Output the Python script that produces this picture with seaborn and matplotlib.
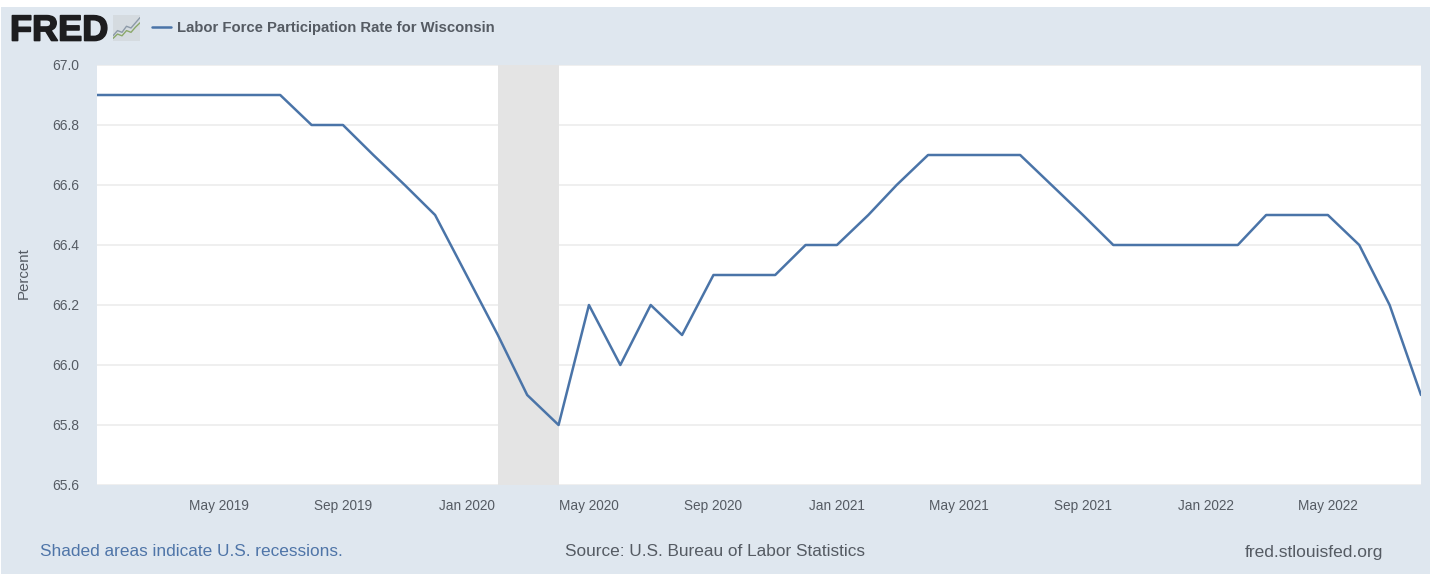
import matplotlib
matplotlib.use('Agg')
import matplotlib.pyplot as plt
import matplotlib.dates as mdates
import matplotlib.patheffects as pe
import pandas as pd
import seaborn as sns
from matplotlib.patches import Rectangle

months = pd.date_range('2019-01-01', '2022-08-01', freq='MS')
rate = [66.9, 66.9, 66.9, 66.9, 66.9, 66.9, 66.9, 66.8, 66.8, 66.7, 66.6, 66.5,
        66.3, 66.1, 65.9, 65.8, 66.2, 66.0, 66.2, 66.1, 66.3, 66.3, 66.3, 66.4,
        66.4, 66.5, 66.6, 66.7, 66.7, 66.7, 66.7, 66.6, 66.5, 66.4, 66.4, 66.4,
        66.4, 66.4, 66.5, 66.5, 66.5, 66.4, 66.2, 65.9]
y_ticks = [65.6, 65.8, 66.0, 66.2, 66.4, 66.6, 66.8, 67.0]
x_ticks = pd.to_datetime(['2019-05-01', '2019-09-01', '2020-01-01', '2020-05-01', '2020-09-01',
                          '2021-01-01', '2021-05-01', '2021-09-01', '2022-01-01', '2022-05-01'])
recession_start = pd.Timestamp('2020-02-01')
recession_end = pd.Timestamp('2020-04-01')

# little chart icon beside the logo
icon_x = [0, 1, 2, 3, 4, 5, 6]
icon_green = [0.6, 1.6, 1.2, 2.4, 2.0, 3.2, 4.2]
icon_grey = [1.2, 2.4, 2.0, 3.4, 3.0, 4.2, 5.4]

BG = '#dfe7ef'
LINE = '#4a74a8'
TEXT = '#555b63'

sns.set_theme(style='white')
plt.rcParams['font.family'] = ['Liberation Sans', 'DejaVu Sans']

W, H = 1431, 574
fig = plt.figure(figsize=(W / 100, H / 100), dpi=100, facecolor='white')
fig.add_artist(Rectangle((1 / W, 0), 1 - 2 / W, 1 - 7 / H, transform=fig.transFigure,
                         facecolor=BG, edgecolor='none', zorder=-5))

ax = fig.add_axes([97 / W, 1 - 485 / H, (1421 - 97) / W, (485 - 65) / H], facecolor='white')
df = pd.DataFrame({'date': months, 'rate': rate})
ax.axvspan(recession_start, recession_end, color='#e4e4e4', lw=0, zorder=1)
sns.lineplot(data=df, x='date', y='rate', ax=ax, color=LINE, linewidth=1.8, zorder=3)

ax.set_xlim(months[0], months[-1])
ax.set_ylim(65.6, 67.0)
ax.set_yticks(y_ticks)
ax.set_yticklabels([f'{v:.1f}' for v in y_ticks])
ax.set_xticks(x_ticks)
ax.xaxis.set_major_formatter(mdates.DateFormatter('%b %Y'))
ax.grid(axis='y', color='#eeeeee', linewidth=1.3, zorder=0)
ax.set_axisbelow(True)
for s in ax.spines.values():
    s.set_visible(False)
ax.tick_params(axis='x', length=8, width=0.8, color='#cdd7e1', labelsize=9.8, labelcolor=TEXT, pad=2)
ax.tick_params(axis='y', length=0, labelsize=10, labelcolor=TEXT, pad=13)
ax.set_xlabel('')
ax.set_ylabel('Percent', fontsize=10.8, color=TEXT)
ax.yaxis.set_label_coords((31 - 97) / (1421 - 97), (485 - 273.5) / (485 - 65))


def px_text(x, y, s, **kw):
    return fig.text(x / W, 1 - y / H, s, va='center', **kw)


logo = px_text(10, 31, 'FRED', fontsize=26, fontweight='bold', color='#1d1d1f')
logo.set_path_effects([pe.withStroke(linewidth=1.2, foreground='#1d1d1f')])
icon = fig.add_axes([113 / W, 1 - 41 / H, 27 / W, 26 / H], facecolor='#d5dbe0')
sns.lineplot(x=icon_x, y=icon_green, ax=icon, color='#8ba86a', linewidth=1.0)
sns.lineplot(x=icon_x, y=icon_grey, ax=icon, color='#8d9aa8', linewidth=1.0)
icon.set_xlim(0, 6)
icon.set_ylim(0, 6)
icon.set_xticks([])
icon.set_yticks([])
icon.set_xlabel('')
icon.set_ylabel('')
for s in icon.spines.values():
    s.set_visible(False)

fig.add_artist(plt.Line2D([152 / W, 171 / W], [1 - 27 / H, 1 - 27 / H], color=LINE, linewidth=1.8))
px_text(177, 28, 'Labor Force Participation Rate for Wisconsin', fontsize=10.7, fontweight='bold', color=TEXT)
px_text(40, 552, 'Shaded areas indicate U.S. recessions.', fontsize=12.45, color='#4f75a8')
px_text(565, 552, 'Source: U.S. Bureau of Labor Statistics', fontsize=12.45, color=TEXT)
px_text(1245, 552, 'fred.stlouisfed.org', fontsize=12.5, color=TEXT)

fig.savefig('out.png', dpi=100, facecolor=fig.get_facecolor())
